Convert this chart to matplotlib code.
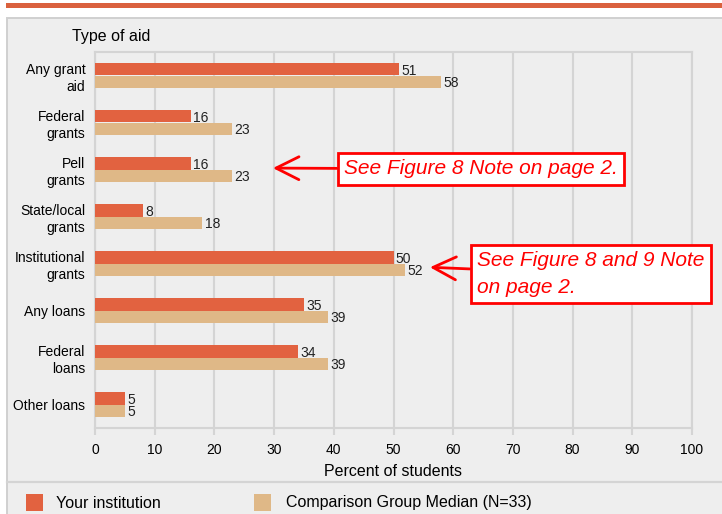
import numpy as np
import matplotlib
matplotlib.use('Agg')
import matplotlib.pyplot as plt
from matplotlib.patches import Rectangle
from matplotlib.lines import Line2D

plt.rcParams['font.family'] = ['Liberation Sans', 'DejaVu Sans']

##### DATA #####
categories = ['Any grant\naid', 'Federal\ngrants', 'Pell\ngrants', 'State/local\ngrants',
              'Institutional\ngrants', 'Any loans', 'Federal\nloans', 'Other loans']
yours = [51, 16, 16, 8, 50, 35, 34, 5]
comparison = [58, 23, 23, 18, 52, 39, 39, 5]
series_names = ['Your institution', 'Comparison Group Median (N=33)']
xticks = list(range(0, 101, 10))
note1 = 'See Figure 8 Note on page 2.'
note2 = 'See Figure 8 and 9 Note\non page 2.'

##### STYLE #####
W, H = 722, 514
c_yours = '#E26240'
c_comp = '#DFB887'
bg = '#EEEEEE'
grid_c = '#D4D4D4'

fig = plt.figure(figsize=(W / 100, H / 100), dpi=100)
fig.patch.set_facecolor('white')

def fx(px):
    return px / W

def fy(py):  # py measured from top
    return 1 - py / H

# orange strip on top + grey panel
fig.patches.append(Rectangle((fx(6), fy(7.7)), 1, 4.4 / H, transform=fig.transFigure,
                             facecolor='#DA613E', edgecolor='none', zorder=-10))
fig.patches.append(Rectangle((fx(6.5), -0.05), 1.2, fy(18) + 0.05, transform=fig.transFigure,
                             facecolor=bg, edgecolor='#D0D0D0', lw=1.4, zorder=-10))
fig.lines.append(Line2D([fx(6.5), 1], [fy(482), fy(482)], transform=fig.transFigure,
                        color=grid_c, lw=1.6, zorder=-5))

ax = fig.add_axes([fx(95), fy(428), fx(692) - fx(95), fy(52) - fy(428)])
ax.set_zorder(1)
ax.set_facecolor(bg)

y = np.arange(len(categories))
h = 0.266
ax.barh(y - h / 2, yours, height=h, color=c_yours, zorder=3)
ax.barh(y + h / 2, comparison, height=h, color=c_comp, zorder=3)

for yi, v in zip(y, yours):
    ax.text(v + 0.4, yi - h / 2 + 0.03, str(v), va='center', ha='left', fontsize=10, color='#222222', zorder=4)
for yi, v in zip(y, comparison):
    ax.text(v + 0.4, yi + h / 2 + 0.03, str(v), va='center', ha='left', fontsize=10, color='#222222', zorder=4)

ax.set_xlim(0, 100)
ax.set_ylim(len(categories) - 0.5, -0.5)
ax.set_xticks(xticks)
ax.set_yticks(y)
ax.set_yticklabels(categories, fontsize=10, multialignment='right', linespacing=1.3)
ax.tick_params(axis='y', length=0, pad=7)
ax.tick_params(axis='x', length=5, width=1.5, color=grid_c, labelsize=10, pad=6)
ax.grid(axis='x', color=grid_c, lw=1.5)
ax.set_axisbelow(True)
for s in ax.spines.values():
    s.set_color(grid_c)
    s.set_linewidth(1.5)
ax.set_xlabel('Percent of students', fontsize=11.5, labelpad=5)

fig.text(fx(72), fy(37), 'Type of aid', fontsize=11.5, va='center', ha='left')

# notes with arrows
arrow = dict(arrowstyle='->, head_length=1.1, head_width=0.55', color='red', lw=2, shrinkA=0, shrinkB=0)
box = dict(boxstyle='square,pad=0.3', facecolor='white', edgecolor='red', lw=2)
ax.annotate(note1, xy=(29.8, 1.97), xycoords='data',
            xytext=(fx(344), fy(169)), textcoords='figure fraction',
            fontsize=15, style='italic', color='red', ha='left', va='center',
            bbox=box, arrowprops=arrow, zorder=5)
box2 = dict(boxstyle='square,pad=0.3', facecolor='white', edgecolor='red', lw=2)
ax.annotate(note2, xy=(56.1, 4.08), xycoords='data',
            xytext=(fx(477), fy(274)), textcoords='figure fraction',
            fontsize=15, style='italic', color='red', ha='left', va='center',
            linespacing=1.5, bbox=box2, arrowprops=arrow, zorder=5, annotation_clip=False)

# legend
legend_pos = [(26, 56), (254, 286)]
for (sx, tx), name, col in zip(legend_pos, series_names, [c_yours, c_comp]):
    fig.patches.append(Rectangle((fx(sx), fy(511)), 17 / W, 17 / H, transform=fig.transFigure,
                                 facecolor=col, edgecolor='none', zorder=2))
    fig.text(fx(tx), fy(503), name, fontsize=11.5, va='center', ha='left')

fig.savefig('out.png', dpi=100)
